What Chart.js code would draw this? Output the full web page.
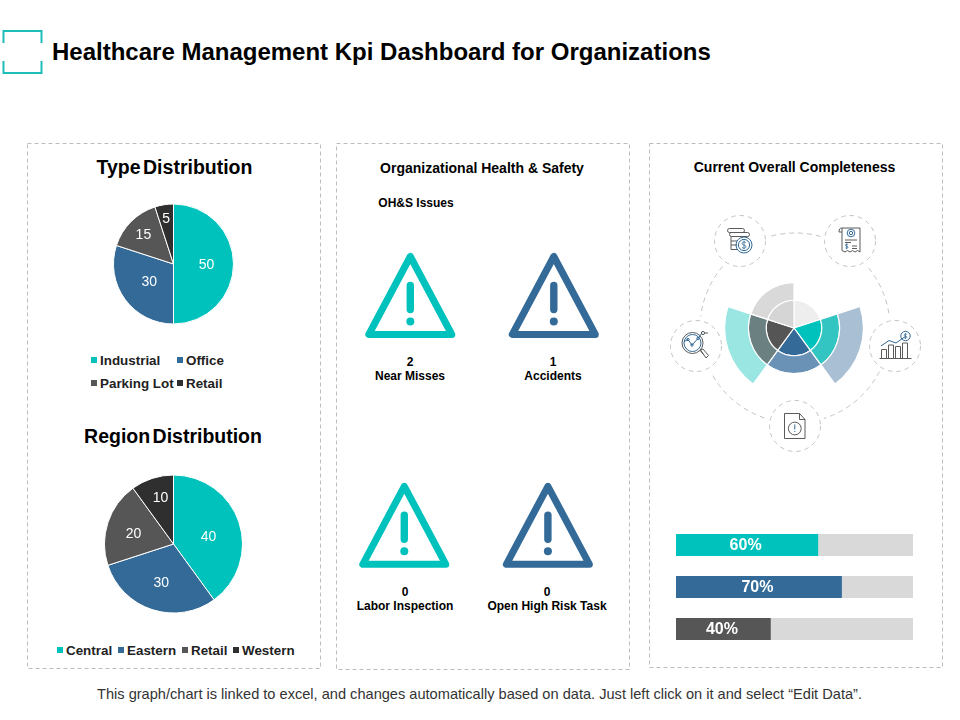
<!DOCTYPE html>
<html>
<head>
<meta charset="utf-8">
<script src="https://cdn.jsdelivr.net/npm/chart.js@4/dist/chart.umd.min.js"></script>
<style>
html,body{margin:0;padding:0;background:#fff;width:960px;height:720px;overflow:hidden;font-family:"Liberation Sans",Arial,sans-serif}
.t{position:absolute;white-space:nowrap;color:#111;line-height:1}
canvas{position:absolute}
svg{position:absolute;left:0;top:0}
.sw{position:absolute;width:6px;height:6px}
</style>
</head>
<body>
<svg width="960" height="720" viewBox="0 0 960 720">
  <defs>
    <g id="warn">
      <path d="M0 -78 L-41.500 0 L41.500 0 Z" fill="none" stroke="currentColor" stroke-width="7" stroke-linejoin="round"/>
      <path d="M0 -49 V-25" fill="none" stroke="currentColor" stroke-width="7.4" stroke-linecap="round"/>
      <circle cx="0" cy="-13" r="4" fill="currentColor"/>
    </g>
  </defs>
  <path d="M3.500 43V31H41.500V43M3.500 61V73H41.500V61" fill="none" stroke="#1dbdb9" stroke-width="2"/>
  <g fill="none" stroke="#bdbdbd" stroke-width="1" stroke-dasharray="4 3">
    <rect x="27.500" y="143.500" width="293" height="525"/>
    <rect x="336.500" y="143.500" width="293" height="526"/>
    <rect x="649.500" y="143.500" width="293" height="524"/>
  </g>
  <use href="#warn" x="410.300" y="334.500" color="#00c2bc"/>
  <use href="#warn" x="553.800" y="334.500" color="#336a98"/>
  <use href="#warn" x="404.300" y="564.300" color="#00c2bc"/>
  <use href="#warn" x="547.900" y="564.300" color="#336a98"/>

  <circle cx="795" cy="328" r="95" fill="none" stroke="#c4c4c4" stroke-width="1" stroke-dasharray="5 4"/>
  <g fill="#fff" stroke="#c4c4c4" stroke-width="1" stroke-dasharray="4.500 4">
    <g><circle cx="740" cy="241" r="30" stroke="none"/><circle cx="740" cy="241" r="25.500"/></g>
    <g><circle cx="850" cy="241" r="30" stroke="none"/><circle cx="850" cy="241" r="25.500"/></g>
    <g><circle cx="895" cy="346" r="30" stroke="none"/><circle cx="895" cy="346" r="25.500"/></g>
    <g><circle cx="795" cy="426" r="30" stroke="none"/><circle cx="795" cy="426" r="25.500"/></g>
    <g><circle cx="696" cy="346" r="30" stroke="none"/><circle cx="696" cy="346" r="25.500"/></g>
  </g>
  <!-- coins -->
  <g fill="none" stroke="#5a5a5a" stroke-width="1">
    <rect x="727.500" y="228.500" width="17" height="4" rx="2"/>
    <rect x="729.500" y="232.500" width="20" height="4" rx="2"/>
    <path d="M731 236.500V249.500H738M731 241H737M731 245H737"/>
    <circle cx="744" cy="245" r="8" stroke="#336a98"/>
    <circle cx="744" cy="245" r="5.600" stroke="#336a98"/>
    <path d="M746 242.600c-1-1-4-1-4 .9s4 1.200 4 3.100-3 1.900-4 .9M744 240.600v8.800" stroke="#336a98" stroke-width=".8"/>
  </g>
  <!-- receipt -->
  <g fill="none" stroke="#5a5a5a" stroke-width="1">
    <path d="M842 228H860V252L857.500 250.500 855 252 852.500 250.500 850 252 847.500 250.500 845 252 842 250.500V228ZM842 228C840 228 839 229 839 232H842"/>
    <circle cx="851" cy="233" r="3.800" stroke="#336a98"/><circle cx="851" cy="233" r="1.700" stroke="#336a98"/>
    <path d="M845 240H857M845 242.500H851"/>
    <path d="M852 246H857M852 248.500H857"/>
    <path d="M848 244.600c-.6-.6-2.600-.6-2.600.6s2.600.8 2.600 2-2 1.200-2.600.6M846.700 243.600v5.600" stroke="#336a98" stroke-width=".8"/>
  </g>
  <!-- growth chart -->
  <g fill="none" stroke="#5a5a5a" stroke-width="1">
    <path d="M879.500 358.500H911.500"/>
    <path d="M881.500 358V349.500H886.500V358M888.500 358V345H893.500V358M895.500 358V346.500H900.500V358M902.500 358V343H907.500V358"/>
    <path d="M881 346L889 340.500L896 343L906 336" stroke="#336a98"/>
    <circle cx="905.500" cy="336" r="4.700" stroke="#336a98"/>
    <path d="M907 334.500c-.6-.6-3-.6-3 .6s3 .8 3 2-2.400 1.200-3 .6M905.500 333v6" stroke="#336a98" stroke-width=".7"/>
  </g>
  <!-- doc -->
  <g fill="none" stroke="#5a5a5a" stroke-width="1">
    <path d="M784.500 413.500H799.500L805 419.500V438.500H784.500ZM799.500 413.500V419.500H805"/>
    <circle cx="794.800" cy="428.500" r="6.400"/>
    <path d="M794.800 424.500V429.500M794.800 431V432" stroke="#336a98"/>
  </g>
  <!-- magnifier -->
  <g fill="none" stroke="#5a5a5a" stroke-width="1">
    <circle cx="692.500" cy="343" r="10.500"/>
    <circle cx="692.500" cy="343" r="8.500" stroke="#336a98"/>
    <path d="M684 341.500L688 339.500L692 345L698 338.500L702 333" stroke="#336a98"/>
    <circle cx="688" cy="339.500" r="1.200" stroke="#336a98"/><circle cx="692" cy="345" r="1.200" stroke="#336a98"/><circle cx="698" cy="338.500" r="1.200" stroke="#336a98"/>
    <path d="M700 350.500L704 355"/>
    <path d="M700.500 350L703 349L708.500 355.500 706 358Z"/>
    <circle cx="703" cy="333" r="1.600"/><path d="M705 333H708"/>
  </g>
</svg>

<canvas id="pieType" style="left:27px;top:184px;width:293px;height:160px" width="293" height="160"></canvas>
<canvas id="pieRegion" style="left:27px;top:455px;width:293px;height:178px" width="293" height="178"></canvas>
<canvas id="radial" style="left:724px;top:258px;width:140px;height:140px" width="140" height="140"></canvas>
<canvas id="bars" style="left:676px;top:524px;width:237px;height:126px" width="237" height="126"></canvas>

<script>
// ---- data ----
const typeLabels = ["Industrial", "Office", "Parking Lot", "Retail"];
const typeValues = [50, 30, 15, 5];
const regionLabels = ["Central", "Eastern", "Retail", "Western"];
const regionValues = [40, 30, 20, 10];
const pieColors = ["#00c2bc", "#336a98", "#565656", "#2f2f2f"];

const radialSegments = [1, 1, 1, 1, 1];
const radialInnerColors = ["#eeeeee", "#00c2bc", "#336a98", "#555555", "#d5d5d5"];
const radialMiddleColors = ["rgba(0,0,0,0)", "#33c5c2", "#6a92b6", "#6b8080", "#d9d9d9"];
const radialOuterColors = ["rgba(0,0,0,0)", "#a9bfd4", "rgba(0,0,0,0)", "#99e6e3", "rgba(0,0,0,0)"];

const progressLabels = ["A", "B", "C"];
const progressValues = [60, 70, 40];
const progressRest = [40, 30, 60];
const progressColors = ["#00c2bc", "#336a98", "#565656"];

const issueCounts = [2, 1, 0, 0];
const issueLabels = ["Near Misses", "Accidents", "Labor Inspection", "Open High Risk Task"];

// ---- text helper ----
function text(str, x, y, css, anchor) {
  const s = document.createElement("div");
  s.className = "t";
  s.textContent = str;
  s.style.cssText = "left:" + x + "px;top:" + y + "px;transform:translate(" + (anchor === "l" ? "0" : "-50%") + ",-50%);" + css;
  document.body.appendChild(s);
  return s;
}
text("Healthcare Management Kpi Dashboard for Organizations", 52, 52, "font:bold 24px 'Liberation Sans';color:#000", "l");
text("Type Distribution", 174.5, 167, "font:bold 19.5px 'Liberation Sans';color:#000;word-spacing:-3px");
text("Region Distribution", 173, 436, "font:bold 19.5px 'Liberation Sans';color:#000;word-spacing:-3px");
text("Organizational Health & Safety", 482, 168, "font:bold 14px 'Liberation Sans';color:#000");
text("Current Overall Completeness", 794.5, 167, "font:bold 14px 'Liberation Sans';color:#000");
text("OH&S Issues", 416, 202.5, "font:bold 12px 'Liberation Sans';color:#000");
text("This graph/chart is linked to excel, and changes automatically based on data. Just left click on it and select \u201cEdit Data\u201d.", 479.5, 694, "font:14.6px 'Liberation Sans';color:#333");

const issuePos = [[410, 361.5], [553, 361.5], [405, 591.5], [547, 591.5]];
issueCounts.forEach((c, i) => {
  text(String(c), issuePos[i][0], issuePos[i][1], "font:bold 12px 'Liberation Sans';color:#000");
  text(issueLabels[i], issuePos[i][0], issuePos[i][1] + 14, "font:bold 12px 'Liberation Sans';color:#000");
});

function legendItem(label, color, x, y) {
  const b = document.createElement("div");
  b.className = "sw";
  b.style.cssText = "left:" + x + "px;top:" + (y - 3) + "px;background:" + color;
  document.body.appendChild(b);
  text(label, x + 9, y, "font:bold 13.4px 'Liberation Sans';color:#222", "l");
}
const typeLegendPos = [[91, 360], [177, 360], [91, 383], [177, 383]];
typeLabels.forEach((l, i) => legendItem(l, pieColors[i], typeLegendPos[i][0], typeLegendPos[i][1]));
const regionLegendPos = [[57, 650], [118, 650], [182, 650], [233, 650]];
regionLabels.forEach((l, i) => legendItem(l, pieColors[i], regionLegendPos[i][0], regionLegendPos[i][1]));

// ---- plugins ----
const sliceLabels = {
  id: "sliceLabels",
  afterDatasetsDraw(chart, args, opts) {
    const ctx = chart.ctx;
    const meta = chart.getDatasetMeta(0);
    ctx.save();
    ctx.fillStyle = "#fff";
    ctx.font = "14px 'Liberation Sans'";
    ctx.textAlign = "center";
    ctx.textBaseline = "middle";
    meta.data.forEach((el, i) => {
      const p = el.getProps(["x", "y", "startAngle", "endAngle", "outerRadius"], true);
      const a = (p.startAngle + p.endAngle) / 2 + opts.shifts[i];
      const r = p.outerRadius * opts.radii[i];
      ctx.fillText(String(chart.data.datasets[0].data[i]), p.x + Math.cos(a) * r, p.y + Math.sin(a) * r + 1);
    });
    ctx.restore();
  }
};
const barLabels = {
  id: "barLabels",
  afterDatasetsDraw(chart) {
    const ctx = chart.ctx;
    const meta = chart.getDatasetMeta(0);
    ctx.save();
    ctx.fillStyle = "#fff";
    ctx.font = "bold 16px 'Liberation Sans'";
    ctx.textAlign = "center";
    ctx.textBaseline = "middle";
    meta.data.forEach((el, i) => {
      const c = el.getCenterPoint();
      ctx.fillText(chart.data.datasets[0].data[i] + "%", c.x - 1.5, c.y + 1);
    });
    ctx.restore();
  }
};

const base = {
  responsive: false,
  animation: false,
  events: [],
  layout: { padding: 0 },
};

function pie(id, labels, values, radius, radii, shifts) {
  new Chart(document.getElementById(id), {
    type: "pie",
    data: { labels, datasets: [{ data: values, backgroundColor: pieColors, borderColor: "#fff", borderWidth: 1 }] },
    options: Object.assign({}, base, {
      radius,
      plugins: { legend: { display: false }, tooltip: { enabled: false }, sliceLabels: { radii, shifts } }
    }),
    plugins: [sliceLabels]
  });
}
pie("pieType", typeLabels, typeValues, 60, [0.55, 0.5, 0.71, 0.78], [0, 0, 0, 0]);
pie("pieRegion", regionLabels, regionValues, 69, [0.52, 0.575, 0.6, 0.71], [0.087, 0, -0.058, 0.047]);

new Chart(document.getElementById("radial"), {
  type: "pie",
  data: {
    datasets: [
      { data: radialSegments, backgroundColor: radialOuterColors, borderColor: "#fff", borderWidth: 1.2, weight: 24 },
      { data: radialSegments, backgroundColor: radialMiddleColors, borderColor: "#fff", borderWidth: 1.2, weight: 18 },
      { data: radialSegments, backgroundColor: radialInnerColors, borderColor: "#fff", borderWidth: 1.2, weight: 28 }
    ]
  },
  options: Object.assign({}, base, { plugins: { legend: { display: false }, tooltip: { enabled: false } } })
});

new Chart(document.getElementById("bars"), {
  type: "bar",
  data: {
    labels: progressLabels,
    datasets: [
      { data: progressValues, backgroundColor: progressColors, categoryPercentage: 1, barPercentage: 22 / 42, borderWidth: 0 },
      { data: progressRest, backgroundColor: "#d9d9d9", categoryPercentage: 1, barPercentage: 22 / 42, borderWidth: 0 }
    ]
  },
  options: Object.assign({}, base, {
    indexAxis: "y",
    scales: {
      x: { display: false, stacked: true, min: 0, max: 100 },
      y: { display: false, stacked: true }
    },
    plugins: { legend: { display: false }, tooltip: { enabled: false } }
  }),
  plugins: [barLabels]
});
</script>
</body>
</html>
